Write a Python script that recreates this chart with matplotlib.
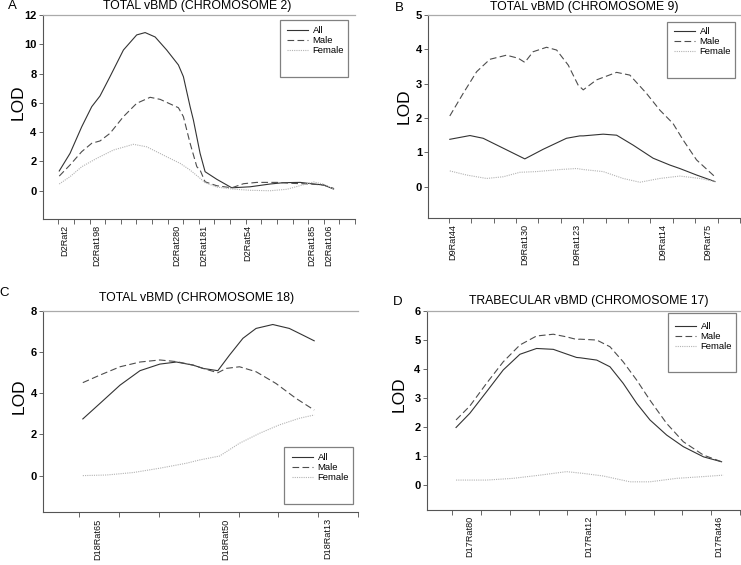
import matplotlib
matplotlib.use("Agg")
import matplotlib.pyplot as plt
from matplotlib.patches import Rectangle
import numpy as np

plt.rcParams['font.family'] = ['Liberation Sans', 'DejaVu Sans']

W, H = 741, 565

# ---- Panel A: total vBMD, chromosome 2 (x in cM) ----
a_all_x = [0.6, 7.5, 15.0, 21.4, 26.7, 33.1, 41.7, 50.2, 55.6, 62.0, 69.4, 76.9, 80.1, 84.4,
           86.5, 90.8, 94.0, 101.5, 111.1, 122.9, 135.7, 144.2, 154.9, 163.5, 169.9, 176.3]
a_all_y = [1.35, 2.55, 4.37, 5.74, 6.47, 7.79, 9.61, 10.64, 10.8, 10.5, 9.61, 8.59, 7.79, 5.74,
           4.83, 2.55, 1.3, 0.78, 0.2, 0.27, 0.46, 0.55, 0.57, 0.46, 0.39, 0.12]
a_male_x = [0.6, 7.5, 15.0, 21.4, 26.7, 33.1, 41.7, 50.2, 58.8, 65.2, 76.9, 80.1, 84.4,
            88.7, 90.8, 94.0, 101.5, 111.1, 118.6, 127.1, 140.0, 150.6, 161.3, 169.9, 176.3]
a_male_y = [1.0, 1.76, 2.67, 3.24, 3.4, 3.92, 5.06, 5.97, 6.38, 6.24, 5.67, 5.06, 3.24,
            1.64, 1.41, 0.61, 0.34, 0.2, 0.48, 0.57, 0.57, 0.5, 0.46, 0.39, 0.16]
a_fem_x = [0.6, 7.5, 15.0, 24.6, 35.3, 48.1, 56.6, 69.4, 78.0, 84.4, 90.8, 94.0, 101.5,
           111.1, 122.9, 135.7, 146.4, 154.9, 163.5, 169.9, 176.3]
a_fem_y = [0.46, 0.96, 1.64, 2.21, 2.78, 3.17, 3.0, 2.32, 1.87, 1.41, 0.85, 0.55, 0.25,
           0.12, 0.03, 0.0, 0.1, 0.35, 0.6, 0.45, 0.1]
a_markers = ['D2Rat2', 'D2Rat198', 'D2Rat280', 'D2Rat181', 'D2Rat54', 'D2Rat185', 'D2Rat106']
a_marker_x = [4.1, 24.8, 76.0, 93.2, 121.0, 162.6, 173.3]

# ---- Panel B: total vBMD, chromosome 9 ----
b_all_x = [0.4, 9.4, 15.3, 24.3, 33.9, 42.1, 52.5, 58.5, 60.0, 68.9, 74.9, 82.3, 91.2, 98.7,
           103.1, 110.6, 118.8]
b_all_y = [1.38, 1.49, 1.41, 1.12, 0.81, 1.09, 1.41, 1.48, 1.48, 1.53, 1.5, 1.21, 0.83, 0.63,
           0.53, 0.34, 0.15]
b_male_x = [0.4, 6.4, 12.4, 18.3, 25.7, 31.0, 33.9, 37.6, 43.6, 48.1, 53.3, 57.7, 60.0, 65.9,
            74.9, 80.8, 88.2, 94.2, 100.1, 104.6, 110.6, 118.8]
b_male_y = [2.06, 2.72, 3.35, 3.71, 3.83, 3.74, 3.62, 3.93, 4.06, 3.98, 3.54, 2.96, 2.82, 3.11,
            3.33, 3.25, 2.72, 2.23, 1.84, 1.36, 0.78, 0.29]
b_fem_x = [0.4, 7.9, 16.8, 24.3, 31.7, 39.1, 49.6, 57.0, 60.0, 68.9, 77.8, 85.3, 94.2, 103.1,
           112.1, 118.8]
b_fem_y = [0.46, 0.34, 0.24, 0.29, 0.42, 0.44, 0.5, 0.53, 0.5, 0.44, 0.24, 0.13, 0.24, 0.31,
           0.24, 0.15]
b_markers = ['D9Rat44', 'D9Rat130', 'D9Rat123', 'D9Rat14', 'D9Rat75']
b_marker_x = [1.9, 33.9, 57.0, 95.7, 115.8]

# ---- Panel C: total vBMD, chromosome 18 ----
c_all_x = [0.9, 5.25, 10.25, 15.25, 20.25, 24.4, 28.6, 31.1, 34.8, 37.75, 41.1, 44.4, 48.6,
           52.75, 56.1, 59.0]
c_all_y = [2.75, 3.51, 4.39, 5.09, 5.41, 5.51, 5.36, 5.2, 5.09, 5.85, 6.66, 7.14, 7.33,
           7.14, 6.82, 6.54]
c_male_x = [0.9, 5.25, 10.25, 15.25, 20.25, 24.4, 28.6, 31.1, 34.8, 36.9, 40.25, 44.4, 49.4,
            54.4, 59.0]
c_male_y = [4.51, 4.88, 5.28, 5.51, 5.61, 5.53, 5.36, 5.2, 4.99, 5.2, 5.28, 5.04, 4.47,
            3.75, 3.18]
c_fem_x = [0.9, 6.9, 13.6, 20.25, 26.9, 30.25, 35.25, 40.25, 45.25, 50.25, 55.25, 59.0]
c_fem_y = [0.0, 0.03, 0.15, 0.36, 0.6, 0.76, 0.95, 1.57, 2.05, 2.46, 2.78, 2.94]
c_markers = ['D18Rat65', 'D18Rat50', 'D18Rat13']
c_marker_x = [4.6, 36.9, 62.3]

# ---- Panel D: trabecular vBMD, chromosome 17 ----
d_all_x = [1.3, 6.1, 11.9, 17.7, 23.5, 29.3, 35.1, 39.7, 43.2, 44.4, 50.2, 54.8, 59.4, 64.1,
           68.7, 74.5, 80.3, 87.3, 93.6]
d_all_y = [1.98, 2.47, 3.21, 3.96, 4.5, 4.7, 4.67, 4.51, 4.39, 4.38, 4.3, 4.07, 3.5, 2.81,
           2.24, 1.72, 1.32, 0.97, 0.8]
d_male_x = [1.3, 6.1, 11.9, 17.7, 23.5, 29.3, 35.1, 39.7, 43.2, 44.4, 50.2, 54.8, 59.4, 64.1,
            68.7, 74.5, 80.3, 87.3, 93.6]
d_male_y = [2.24, 2.72, 3.5, 4.24, 4.82, 5.13, 5.19, 5.1, 5.01, 5.02, 4.99, 4.76, 4.24, 3.61,
            2.92, 2.12, 1.49, 1.03, 0.8]
d_fem_x = [1.3, 11.9, 21.2, 30.5, 39.7, 45.5, 52.5, 61.8, 68.7, 78.0, 87.3, 94.2]
d_fem_y = [0.17, 0.17, 0.23, 0.34, 0.46, 0.4, 0.31, 0.11, 0.11, 0.23, 0.29, 0.34]
d_markers = ['D17Rat80', 'D17Rat12', 'D17Rat46']
d_marker_x = [5.9, 47.3, 92.5]

series_labels = ['All', 'Male', 'Female']

fig = plt.figure(figsize=(W / 100, H / 100), dpi=100)


def px_axes(l, r, t, b):
    return fig.add_axes([l / W, 1 - b / H, (r - l) / W, (b - t) / H])


def ftext(x, y, s, **kw):
    fig.text(x / W, 1 - y / H, s, **kw)


def panel(box, xlim, ylim, xstep, yticks, curves, markers, marker_x, title, tpos,
          letter, lpos, lodpos, legbox, legpos):
    ax = px_axes(*box)
    ax.plot(curves[0][0], curves[0][1], color='#333333', lw=0.8, label=series_labels[0])
    ax.plot(curves[1][0], curves[1][1], color='#4d4d4d', lw=0.8, dashes=(6, 3),
            label=series_labels[1])
    ax.plot(curves[2][0], curves[2][1], color='#b3b3b3', lw=0.8, ls=(0, (1, 1)),
            label=series_labels[2])
    ax.set_xlim(*xlim)
    ax.set_ylim(*ylim)
    ax.set_xticks(np.arange(0, xlim[1] + 0.5, xstep))
    ax.set_xticklabels([])
    ax.set_yticks(yticks)
    ax.set_yticklabels([str(v) for v in yticks], fontsize=8, fontweight='bold')
    ax.tick_params(axis='x', direction='out', length=3.5, width=0.7, color='#666666')
    ax.tick_params(axis='y', direction='out', length=3, width=0.7, color='#666666', pad=1.5)
    for s in ['left', 'bottom']:
        ax.spines[s].set_color('#555555')
        ax.spines[s].set_linewidth(0.8)
    ax.spines['top'].set_color('#aaaaaa')
    ax.spines['top'].set_linewidth(0.9)
    ax.spines['right'].set_visible(False)
    for name, mx in zip(markers, marker_x):
        ax.annotate(name, xy=(mx, 0), xycoords=('data', 'axes fraction'),
                    xytext=(0, -6), textcoords='offset pixels', rotation=90,
                    ha='center', va='top', fontsize=6.6, color='#111111')
    ftext(tpos[0], tpos[1], title, ha='center', va='center', fontsize=8.8)
    ftext(lpos[0], lpos[1], letter, ha='center', va='center', fontsize=9.5)
    ftext(lodpos[0], lodpos[1], 'LOD', ha='center', va='center', fontsize=12.5, rotation=90)
    x0, x1, y0, y1 = legbox
    fig.add_artist(Rectangle((x0 / W, 1 - y1 / H), (x1 - x0) / W, (y1 - y0) / H,
                             transform=fig.transFigure, fill=False,
                             edgecolor='#808080', lw=0.9))
    ax.legend(loc='upper left', bbox_to_anchor=(legpos[0] / W, 1 - legpos[1] / H),
              bbox_transform=fig.transFigure, frameon=False, fontsize=6.8,
              handlelength=2.2, handletextpad=0.5, labelspacing=0.1,
              borderpad=0, borderaxespad=0)
    return ax


panel((42.7, 355, 15, 219), (-10, 190), (-1.93, 12), 10, [0, 2, 4, 6, 8, 10, 12],
      [(a_all_x, a_all_y), (a_male_x, a_male_y), (a_fem_x, a_fem_y)],
      a_markers, a_marker_x, 'TOTAL vBMD (CHROMOSOME 2)', (197, 6), 'A', (12, 6),
      (18, 102), (280, 348, 20, 77), (287, 26))

panel((428.3, 740, 15, 218.3), (-9.2, 130), (-0.92, 5), 10, [0, 1, 2, 3, 4, 5],
      [(b_all_x, b_all_y), (b_male_x, b_male_y), (b_fem_x, b_fem_y)],
      b_markers, b_marker_x, 'TOTAL vBMD (CHROMOSOME 9)', (584, 7), 'B', (399, 8),
      (404, 106), (667, 735, 22, 78), (674, 27))

panel((43, 358, 310.7, 512.3), (-9.1, 70), (-1.78, 8), 10, [0, 2, 4, 6, 8],
      [(c_all_x, c_all_y), (c_male_x, c_male_y), (c_fem_x, c_fem_y)],
      c_markers, c_marker_x, 'TOTAL vBMD (CHROMOSOME 18)', (197, 298), 'C', (4, 293),
      (19, 396), (284, 353, 447, 504), (292, 453))

panel((426.7, 740, 310.7, 510), (-8.9, 100), (-0.86, 6), 10, [0, 1, 2, 3, 4, 5, 6],
      [(d_all_x, d_all_y), (d_male_x, d_male_y), (d_fem_x, d_fem_y)],
      d_markers, d_marker_x, 'TRABECULAR vBMD (CHROMOSOME 17)', (589, 301), 'D', (398, 302),
      (399, 394), (668, 736, 313, 372), (675, 322))

fig.savefig('out.png', dpi=100)
